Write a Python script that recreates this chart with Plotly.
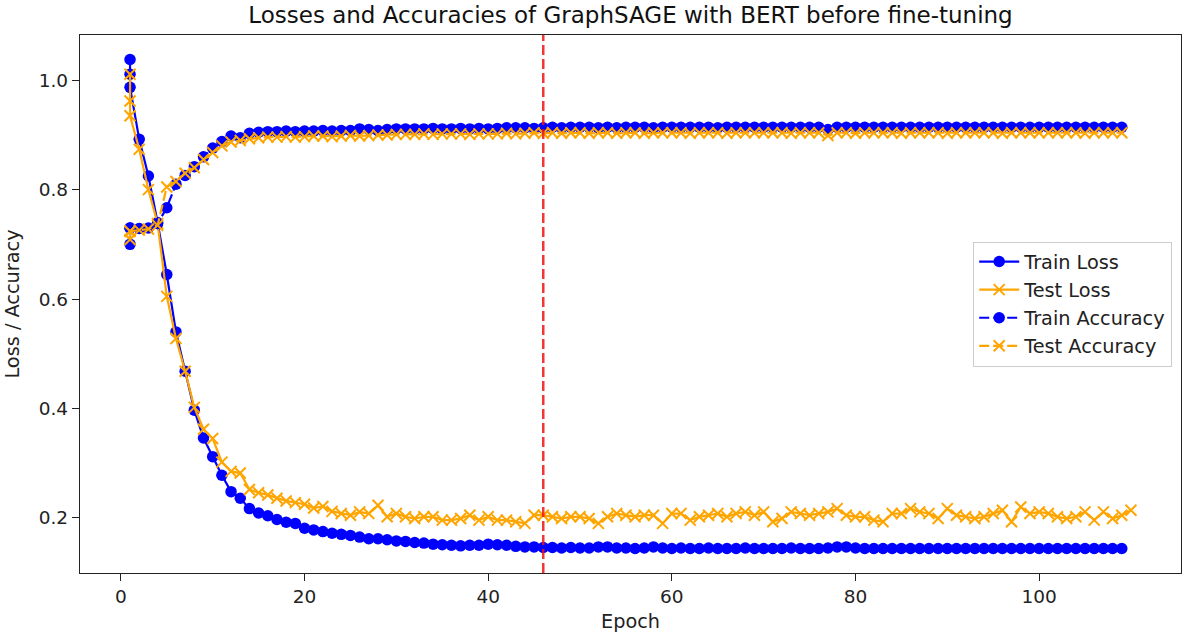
import plotly.graph_objects as go

# Epochs (epoch 1 appears three times in the logged history)
epochs = [1, 1, 1] + list(range(2, 111))

train_loss = [
    1.038, 1.011, 0.987,
    0.892, 0.825, 0.740, 0.645, 0.540, 0.468, 0.397, 0.346, 0.312,
    0.278, 0.248, 0.236, 0.217, 0.209, 0.204, 0.197, 0.192, 0.190, 0.181,
    0.178, 0.175, 0.172, 0.170, 0.168, 0.165, 0.162, 0.162, 0.160, 0.158,
    0.157, 0.155, 0.154, 0.152, 0.151, 0.150, 0.149, 0.150, 0.150, 0.152,
    0.151, 0.150, 0.148, 0.147, 0.147, 0.146, 0.146, 0.145, 0.146, 0.145,
    0.145, 0.147, 0.147, 0.145, 0.145, 0.144, 0.145, 0.147, 0.145, 0.144,
    0.145, 0.144, 0.144, 0.145, 0.144, 0.144, 0.144, 0.145, 0.144, 0.144,
    0.144, 0.144, 0.145, 0.144, 0.144, 0.144, 0.145, 0.147, 0.147, 0.145,
    0.144, 0.144, 0.144, 0.144, 0.144, 0.144, 0.144, 0.144, 0.144, 0.144,
    0.144, 0.144, 0.144, 0.144, 0.144, 0.144, 0.144, 0.144, 0.144, 0.144,
    0.144, 0.144, 0.144, 0.144, 0.144, 0.144, 0.144, 0.144, 0.144,
]

test_loss = [
    1.011, 0.962, 0.935,
    0.874, 0.800, 0.738, 0.605, 0.528, 0.468, 0.402, 0.362, 0.345,
    0.302, 0.285, 0.282, 0.252, 0.246, 0.242, 0.236, 0.231, 0.228, 0.225,
    0.218, 0.221, 0.212, 0.208, 0.205, 0.211, 0.208, 0.223, 0.202, 0.208,
    0.202, 0.199, 0.202, 0.202, 0.196, 0.196, 0.199, 0.205, 0.196, 0.202,
    0.196, 0.196, 0.193, 0.190, 0.205, 0.205, 0.202, 0.199, 0.202, 0.202,
    0.199, 0.190, 0.202, 0.208, 0.205, 0.202, 0.205, 0.205, 0.190, 0.208,
    0.208, 0.196, 0.202, 0.205, 0.208, 0.202, 0.208, 0.211, 0.205, 0.211,
    0.193, 0.199, 0.211, 0.208, 0.205, 0.208, 0.211, 0.217, 0.205, 0.202,
    0.202, 0.196, 0.193, 0.208, 0.208, 0.217, 0.211, 0.208, 0.199, 0.217,
    0.205, 0.202, 0.199, 0.202, 0.208, 0.214, 0.193, 0.220, 0.208, 0.211,
    0.208, 0.202, 0.199, 0.202, 0.211, 0.196, 0.211, 0.199, 0.205, 0.214,
]

train_acc = [
    0.730, 0.700, 0.730,
    0.729, 0.730, 0.738, 0.767, 0.810, 0.826, 0.842, 0.860, 0.876,
    0.888, 0.898, 0.895, 0.903, 0.905, 0.906, 0.906, 0.907, 0.906, 0.907,
    0.907, 0.908, 0.907, 0.908, 0.908, 0.911, 0.910, 0.908, 0.910, 0.911,
    0.911, 0.911, 0.911, 0.912, 0.911, 0.911, 0.912, 0.911, 0.912, 0.911,
    0.912, 0.913, 0.913, 0.913, 0.912, 0.913, 0.914, 0.913, 0.914, 0.914,
    0.914, 0.913, 0.914, 0.913, 0.914, 0.914, 0.914, 0.913, 0.914, 0.914,
    0.914, 0.914, 0.914, 0.914, 0.913, 0.914, 0.914, 0.914, 0.914, 0.914,
    0.914, 0.914, 0.914, 0.914, 0.914, 0.914, 0.910, 0.914, 0.914, 0.914,
    0.914, 0.914, 0.914, 0.914, 0.914, 0.914, 0.914, 0.914, 0.914, 0.914,
    0.914, 0.914, 0.914, 0.914, 0.914, 0.914, 0.914, 0.914, 0.914, 0.914,
    0.914, 0.914, 0.914, 0.914, 0.914, 0.914, 0.914, 0.914, 0.914,
]

test_acc = [
    0.724, 0.709, 0.724,
    0.726, 0.728, 0.735, 0.805, 0.815, 0.830, 0.840, 0.855, 0.868,
    0.880, 0.887, 0.890, 0.893, 0.895, 0.896, 0.896, 0.897, 0.896, 0.897,
    0.898, 0.898, 0.897, 0.898, 0.899, 0.898, 0.899, 0.900, 0.900, 0.901,
    0.901, 0.901, 0.902, 0.901, 0.902, 0.902, 0.902, 0.901, 0.902, 0.902,
    0.902, 0.903, 0.902, 0.903, 0.904, 0.903, 0.904, 0.903, 0.904, 0.904,
    0.903, 0.904, 0.904, 0.903, 0.904, 0.904, 0.903, 0.904, 0.904, 0.904,
    0.904, 0.903, 0.904, 0.904, 0.904, 0.903, 0.904, 0.904, 0.904, 0.904,
    0.904, 0.904, 0.903, 0.904, 0.904, 0.904, 0.899, 0.904, 0.904, 0.903,
    0.904, 0.904, 0.904, 0.904, 0.903, 0.904, 0.904, 0.904, 0.904, 0.903,
    0.904, 0.904, 0.904, 0.904, 0.904, 0.903, 0.904, 0.904, 0.904, 0.904,
    0.904, 0.904, 0.904, 0.904, 0.903, 0.904, 0.904, 0.904, 0.904,
]

best_epoch = 46

series_names = ["Train Loss", "Test Loss", "Train Accuracy", "Test Accuracy"]
x_ticks = [0, 20, 40, 60, 80, 100]
y_ticks = [0.2, 0.4, 0.6, 0.8, 1.0]

BLUE = "#0000ff"
ORANGE = "#ffa500"
DASH = "10px,4px"

fig = go.Figure()

def add(y, name, color, symbol, dash):
    if symbol == "circle":
        marker = dict(symbol="circle", size=11.5, color=color, line=dict(width=0))
    else:
        marker = dict(symbol="x-thin", size=11, color=color,
                      line=dict(width=2, color=color))
    fig.add_trace(go.Scatter(
        x=epochs, y=y, name=name, mode="lines+markers",
        line=dict(color=color, width=2.2, dash=dash),
        marker=marker,
    ))

add(train_loss, series_names[0], BLUE, "circle", "solid")
add(test_loss, series_names[1], ORANGE, "x", "solid")
add(train_acc, series_names[2], BLUE, "circle", DASH)
add(test_acc, series_names[3], ORANGE, "x", DASH)

fig.add_shape(type="line", x0=best_epoch, x1=best_epoch, xref="x",
              y0=0, y1=1, yref="paper",
              line=dict(color="rgba(240,20,20,0.85)", width=2.5, dash=DASH))

all_y = train_loss + test_loss + train_acc + test_acc
ymin, ymax = min(all_y), max(all_y)
yspan = ymax - ymin
xmin, xmax = min(epochs), max(epochs)
xspan = xmax - xmin

axis_common = dict(
    showgrid=False, zeroline=False, showline=True, mirror=True,
    linecolor="#222222", linewidth=1.3, ticks="outside", ticklen=7,
    tickwidth=1.3, tickcolor="#222222", tickfont=dict(size=18.5, color="#222222"),
)

fig.update_layout(
    width=1183, height=635,
    margin=dict(l=80, r=2, t=35, b=62),
    paper_bgcolor="white", plot_bgcolor="white",
    font=dict(family="DejaVu Sans", color="#222222"),
    title=dict(text="Losses and Accuracies of GraphSAGE with BERT before fine-tuning",
               x=0.5, xref="paper", xanchor="center",
               y=1 - 15 / 635, yref="container", yanchor="middle",
               font=dict(size=23, color="#111111")),
    xaxis=dict(range=[xmin - 0.05 * xspan, xmax + 0.05 * xspan],
               tickvals=x_ticks,
               title=dict(text="Epoch", font=dict(size=19.3), standoff=8),
               **axis_common),
    yaxis=dict(range=[ymin - 0.05 * yspan, ymax + 0.05 * yspan],
               tickvals=y_ticks, tickformat=".1f",
               title=dict(text="Loss / Accuracy", font=dict(size=19.3), standoff=13),
               **axis_common),
    legend=dict(x=0.992, xanchor="right", y=0.5, yanchor="middle",
                bgcolor="rgba(255,255,255,0.8)", bordercolor="#cccccc",
                borderwidth=1, font=dict(size=19.3, color="#222222"),
                tracegroupgap=0, itemwidth=40),
    showlegend=True,
)

fig.write_html(
    "out.html",
    config={"displayModeBar": False},
    post_script="document.body.style.margin='0';document.body.style.overflow='hidden';",
)
